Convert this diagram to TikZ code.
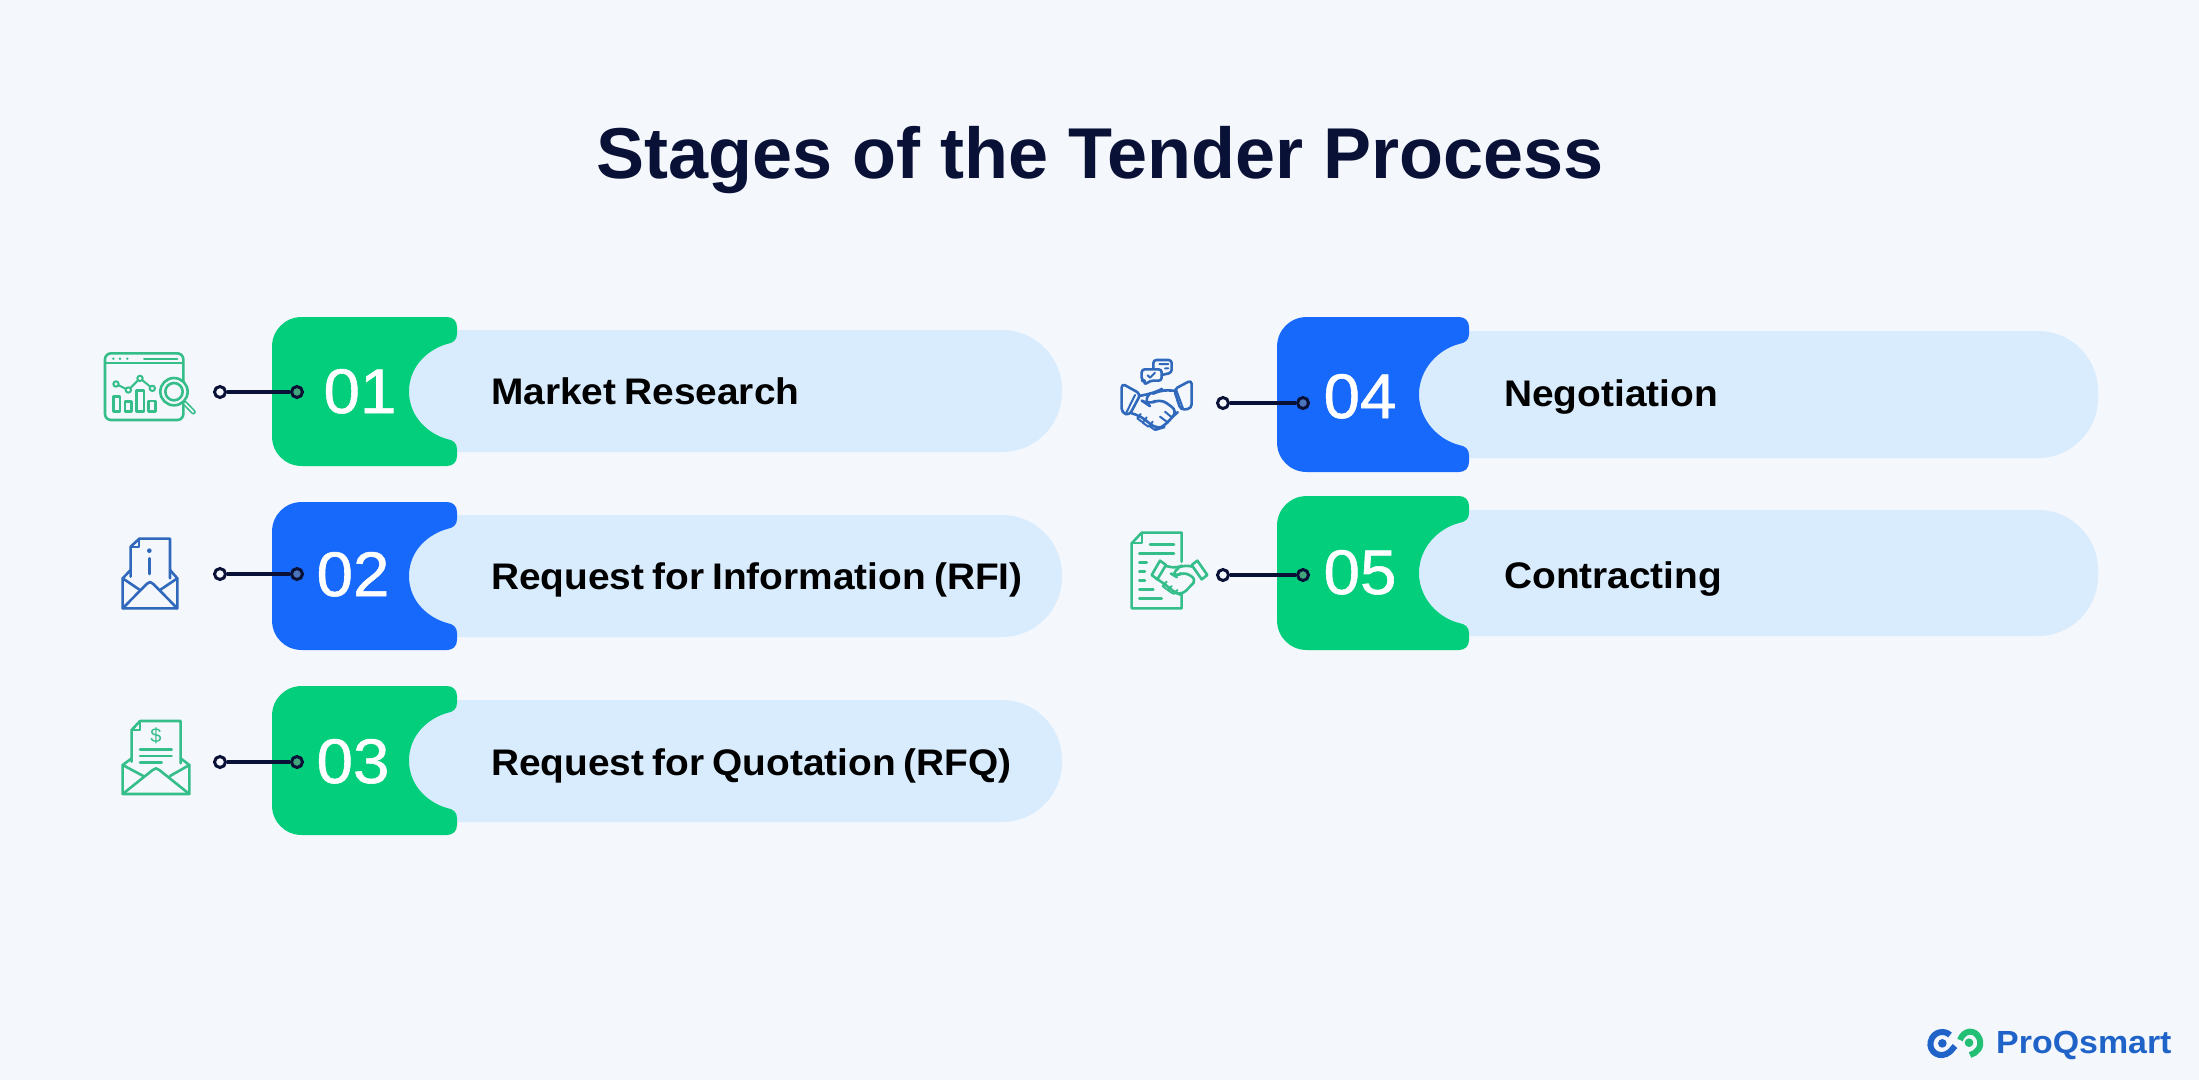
\documentclass[tikz,border=0pt]{standalone}
\usepackage{fontspec}
\setmainfont{Liberation Sans}
\newfontfamily\labelfont[FakeStretch=1.05, WordSpace=0.75]{Liberation Sans}
\newfontfamily\numfont[FakeStretch=1.04, FakeBold=0.9]{Liberation Sans}
\newfontfamily\logofont[FakeStretch=1.06]{Liberation Sans}
\definecolor{pagebg}{HTML}{F4F7FC}
\definecolor{pillbg}{HTML}{D9ECFD}
\definecolor{tabgreen}{HTML}{03CE7C}
\definecolor{tabblue}{HTML}{1769FC}
\definecolor{inkdark}{HTML}{0A1136}
\definecolor{icongreen}{HTML}{35BE8A}
\definecolor{iconblue}{HTML}{3069BC}
\definecolor{logoblue}{HTML}{1F63C9}
\definecolor{logogreen}{HTML}{22BF74}
\tikzset{
  linkline/.style={line width=3.2pt, draw=inkdark},
  startdot/.style={circle, draw=inkdark, line width=3pt, fill=pagebg, minimum size=11pt, inner sep=0pt},
  enddot/.style={circle, draw=inkdark, line width=3pt, fill=gray, fill opacity=0.5, draw opacity=1, minimum size=11pt, inner sep=0pt},
  stagenum/.style={text=white, font=\numfont\fontsize{63}{63}\selectfont, inner sep=0pt, anchor=base},
  stagelabel/.style={text=black, font=\labelfont\fontsize{37}{37}\selectfont\bfseries, inner sep=0pt, anchor=base west},
  iconline/.style={line width=2.6pt, line join=round, line cap=round},
  iconthin/.style={line width=2pt, line join=round, line cap=round},
}
\newcommand{\StagePill}[4]{
  \fill [pillbg] (#1, #2) [rounded corners=60pt] -- (#3, #2) -- (#3, #4) [sharp corners] -- (#1, #4) -- cycle;
}
\newcommand{\StageTab}[6]{
  \pgfmathsetmacro{\tabmid}{(#3+#5)/2}
  \fill [#1] (#2+30, #3) -- (#4-10, #3) .. controls (#4-4, #3) and (#4, #3+4) .. (#4, #3+10)
    -- (#4, #3+17) .. controls (#4, #3+23) and (#4-4, #3+26) .. (#4-10, #3+27)
    .. controls (#6+20, #3+32) and (#6, \tabmid-26) .. (#6, \tabmid)
    .. controls (#6, \tabmid+26) and (#6+20, #5-32) .. (#4-10, #5-27)
    .. controls (#4-4, #5-26) and (#4, #5-23) .. (#4, #5-17)
    -- (#4, #5-10) .. controls (#4, #5-4) and (#4-4, #5) .. (#4-10, #5)
    -- (#2+30, #5) .. controls (#2+13, #5) and (#2, #5-13) .. (#2, #5-30)
    -- (#2, #3+30) .. controls (#2, #3+13) and (#2+13, #3) .. (#2+30, #3) -- cycle;
}
\newcommand{\StageLink}[4]{
  \node [startdot] (start#1) at (#2, #4) {};
  \node [enddot] (end#1) at (#3, #4) {};
  \draw [linkline] (start#1) -- (end#1);
}
\begin{document}
\begin{tikzpicture}[x=1pt, y=-1pt]

        \useasboundingbox (0, 0) rectangle (2199, 1080);
        \fill [pagebg] (0, 0) rectangle (2199, 1080);

        % title
        \node [text=inkdark, font=\fontsize{72}{72}\selectfont\bfseries, inner sep=0pt, anchor=base] (title) at (1100, 178) {Stages of the Tender Process};

        % 01-02-03 column
        \StagePill{405}{330}{1062}{452}
        \StageTab{tabgreen}{272}{317}{457}{466}{409}
        \StagePill{405}{515}{1062}{637}
        \StageTab{tabblue}{272}{502}{457}{650}{409}
        \StagePill{405}{700}{1062}{822}
        \StageTab{tabgreen}{272}{686}{457}{835}{409}

        % 04-05 column
        \StagePill{1415}{331}{2098}{458}
        \StageTab{tabblue}{1277}{317}{1469}{472}{1419}
        \StagePill{1415}{510}{2098}{636}
        \StageTab{tabgreen}{1277}{496}{1469}{650}{1419}

        % numbers
        \node [stagenum] (num01) at (360, 413) {01};
        \node [stagenum] (num02) at (353, 596) {02};
        \node [stagenum] (num03) at (353, 783) {03};
        \node [stagenum] (num04) at (1360, 418) {04};
        \node [stagenum] (num05) at (1360, 594) {05};

        % labels
        \node [stagelabel] (label01) at (491, 404) {Market Research};
        \node [stagelabel] (label02) at (491, 589) {Request for Information (RFI)};
        \node [stagelabel] (label03) at (491, 775) {Request for Quotation (RFQ)};
        \node [stagelabel] (label04) at (1504, 406) {Negotiation};
        \node [stagelabel] (label05) at (1504, 588) {Contracting};

        % connectors
        \StageLink{01}{220}{297}{392}
        \StageLink{02}{220}{297}{574}
        \StageLink{03}{220}{297}{762}
        \StageLink{04}{1223}{1303}{403}
        \StageLink{05}{1223}{1303}{575}

        % market research icon
        \begin{scope}[shift={(90, 300)}, scale=1/3, icongreen]
          \draw [iconline, rounded corners=6] (45, 160) rectangle (280, 360);
          \draw [iconthin] (45, 190) -- (280, 190) (162, 176) -- (262, 176);
          \fill (70, 176) circle [radius=4] (90, 176) circle [radius=4] (112, 176) circle [radius=4];
          \draw [iconline] (70, 290) rectangle (90, 335) (105, 305) rectangle (125, 335) (140, 272) rectangle (162, 335) (175, 303) rectangle (197, 335);
          \draw [iconthin] (78, 252) -- (115, 270) -- (150, 235) -- (187, 265);
          \draw [iconthin, fill=pagebg] (78, 252) circle [radius=8] (115, 270) circle [radius=8] (150, 235) circle [radius=8] (187, 265) circle [radius=8];
          \draw [iconline, fill=pagebg] (252, 275) circle [radius=41];
          \draw [iconline] (252, 275) circle [radius=26];
          \draw [line width=5pt, line cap=round] (285, 310) -- (310, 336);
          \draw [line width=1.6pt, pagebg, line cap=round] (285, 310) -- (310, 336);
        \end{scope}

        % rfi icon
        \begin{scope}[shift={(90, 300)}, scale=1/3, iconblue]
          \draw [iconline] (122, 830) -- (122, 740) -- (148, 716) -- (240, 716) -- (240, 835);
          \draw [iconthin] (122, 740) -- (148, 740) -- (148, 716);
          \fill (178, 752) circle [radius=7];
          \draw [iconline] (178, 775) -- (178, 822);
          \draw [iconline] (122, 810) -- (98, 835) -- (98, 925) -- (262, 925) -- (262, 835) -- (240, 810);
          \draw [iconline] (98, 835) -- (150, 870) (262, 835) -- (210, 870);
          \draw [iconline] (98, 925) -- (170, 852) -- (180, 846) -- (190, 852) -- (262, 925);
        \end{scope}

        % rfq icon
        \begin{scope}[shift={(90, 670)}, scale=1/3, icongreen]
          \draw [iconline] (125, 275) -- (125, 180) -- (150, 153) -- (272, 153) -- (272, 280);
          \draw [iconthin] (125, 180) -- (150, 180) -- (150, 153);
          \node [inner sep=0pt, font=\fontsize{20}{20}\selectfont] (dollar) at (198, 197) {\$};
          \draw [iconline] (150, 238) -- (245, 238) (150, 258) -- (245, 258) (150, 278) -- (215, 278);
          \draw [iconline] (125, 265) -- (98, 285) -- (98, 372) -- (298, 372) -- (298, 285) -- (272, 265);
          \draw [iconline] (98, 285) -- (160, 318) (298, 285) -- (240, 318);
          \draw [iconline] (98, 372) -- (188, 300) -- (198, 295) -- (208, 300) -- (298, 372);
        \end{scope}

        % negotiation icon
        \begin{scope}[shift={(1100, 300)}, scale=1/3, iconblue]
          \draw [iconline, rounded corners=4] (65, 250) -- (122, 282) -- (88, 346) -- (65, 338) -- cycle;
          \draw [iconline, rounded corners=4] (275, 240) -- (275, 325) -- (242, 330) -- (222, 268) -- cycle;
          \draw [iconthin] (105, 285) -- (78, 340) (228, 268) -- (250, 328);
          \draw [iconline, rounded corners=3] (125, 208) -- (185, 208) -- (185, 242) -- (150, 242) -- (135, 255) -- (135, 242) -- (125, 242) -- cycle;
          \draw [iconline, rounded corners=3] (160, 205) -- (160, 180) -- (215, 180) -- (215, 218) -- (185, 225);
          \draw [iconthin] (143, 226) -- (150, 233) -- (165, 218) (178, 192) -- (205, 192) (195, 205) -- (205, 205);
          \draw [iconline, rounded corners=8] (118, 288) -- (165, 278) -- (180, 270) -- (222, 272);
          \draw [iconline, rounded corners=8] (150, 280) -- (130, 305) -- (145, 315) -- (180, 295) -- (235, 335) -- (215, 352) -- (190, 382) -- (170, 388) -- (118, 345) -- (95, 340);
          \draw [iconthin] (122, 342) -- (112, 355) -- (125, 365) (140, 352) -- (128, 368) -- (145, 380) (158, 365) -- (148, 378) -- (165, 390);
          \draw [iconthin] (215, 352) -- (195, 335) (200, 365) -- (180, 350);
        \end{scope}

        % contracting icon
        \begin{scope}[shift={(1100, 300)}, scale=1/3, icongreen]
          \draw [iconline] (245, 785) -- (245, 698) -- (125, 698) -- (95, 730) -- (95, 925) -- (245, 925) -- (245, 880);
          \draw [iconthin] (95, 730) -- (125, 730) -- (125, 698);
          \draw [iconline] (150, 733) -- (222, 733) (118, 760) -- (222, 760) (118, 788) -- (140, 788) (118, 815) -- (135, 815) (118, 842) -- (135, 842) (118, 868) -- (160, 868) (118, 895) -- (185, 895);
          \draw [iconline, fill=pagebg] (180, 782) -- (198, 795) -- (172, 838) -- (155, 825) -- cycle;
          \draw [iconline, fill=pagebg] (292, 782) -- (322, 825) -- (305, 838) -- (275, 795) -- cycle;
          \draw [iconline, rounded corners=6] (198, 798) -- (230, 805) -- (250, 795) -- (278, 800);
          \draw [iconline, rounded corners=6] (235, 805) -- (215, 822) -- (228, 830) -- (250, 815) -- (290, 838) -- (270, 860) -- (245, 885) -- (225, 878) -- (185, 845) -- (172, 838);
          \draw [iconthin] (200, 845) -- (188, 858) -- (200, 868) (215, 858) -- (203, 870) -- (218, 880) (232, 870) -- (222, 882);
        \end{scope}

        % logo
        \begin{scope}[shift={(1900, 1010)}, scale=1/3]
          \draw [logoblue, line width=6pt] (150, 75) .. controls (135, 60) and (100, 62) .. (92, 95) .. controls (85, 125) and (120, 150) .. (150, 125) -- (165, 108);
          \fill [logoblue] (127, 100) circle [radius=13];
          \draw [logogreen, line width=6pt] (180, 90) .. controls (190, 60) and (225, 55) .. (238, 85) .. controls (248, 110) and (230, 130) .. (210, 135);
          \fill [logogreen] (207, 98) circle [radius=13];
          \node [logoblue, font=\logofont\fontsize{32}{32}\selectfont\bfseries, inner sep=0pt, anchor=base west] (logo) at (288, 130) {ProQsmart};
        \end{scope}

      \end{tikzpicture}
\end{document}
